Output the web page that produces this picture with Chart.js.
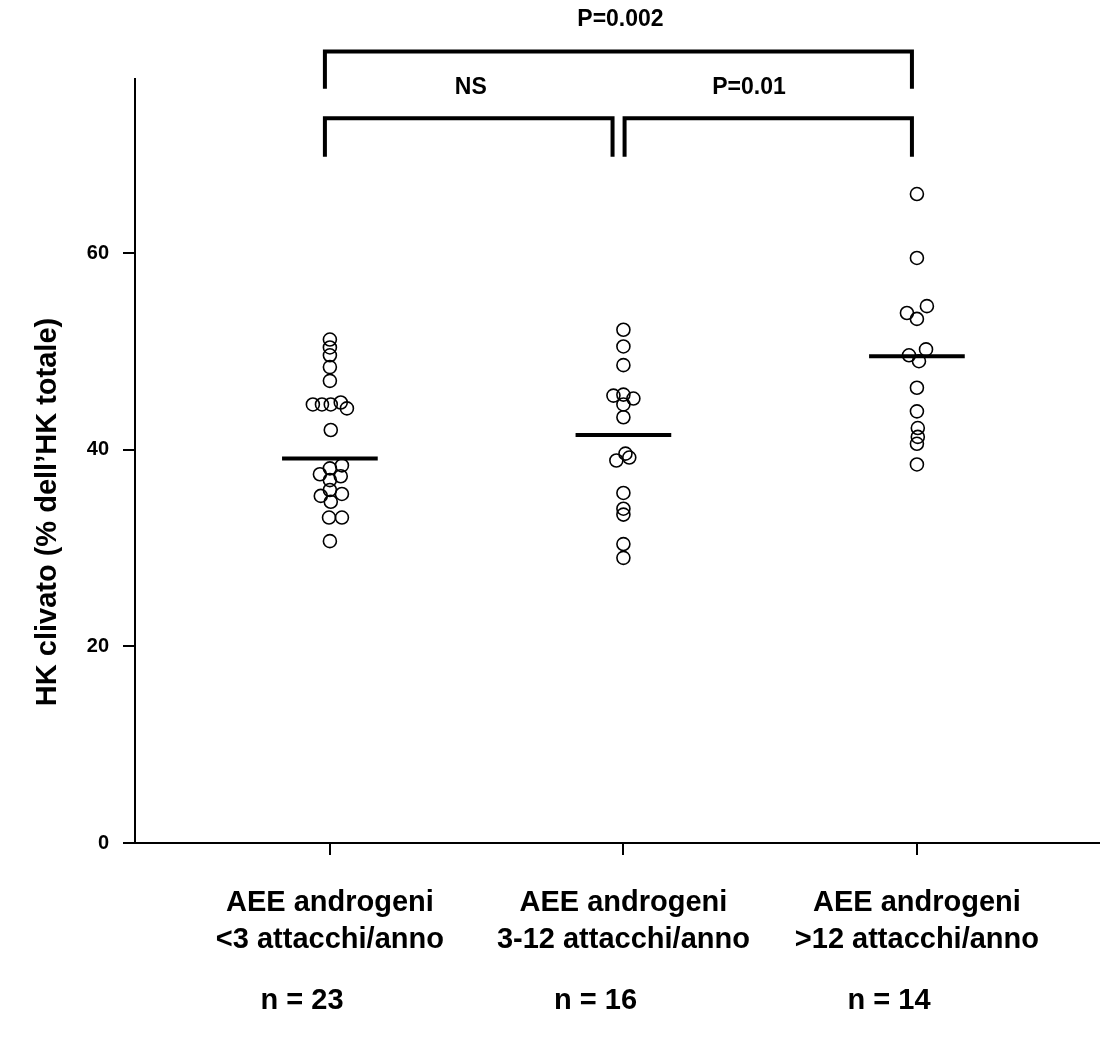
<!DOCTYPE html>
<html>
<head>
<meta charset="utf-8">
<script src="https://cdn.jsdelivr.net/npm/chart.js@4.4.1/dist/chart.umd.min.js"></script>
<style>
  html, body { margin: 0; padding: 0; background: #ffffff; }
  canvas { display: block; }
</style>
</head>
<body>
<canvas id="c" width="1107" height="1038"></canvas>
<script>
// ---------- data ----------
const categories = [
  ["AEE androgeni", "<3 attacchi/anno"],
  ["AEE androgeni", "3-12 attacchi/anno"],
  ["AEE androgeni", ">12 attacchi/anno"]
];
const nLabels = ["n = 23", "n = 16", "n = 14"];
const yTitle = "HK clivato (% dell\u2019HK totale)";
const yTicks = [0, 20, 40, 60];

const group1Values = [51.2, 50.4, 49.6, 48.4, 47.0, 44.6, 44.6, 44.6, 44.8, 44.2, 42.0, 38.4, 38.1, 37.5, 37.3, 36.9, 35.9, 35.3, 35.5, 34.7, 33.1, 33.1, 30.7];
const group1Jitter = [0, 0, 0, 0, 0, -0.058, -0.027, 0.003, 0.037, 0.058, 0.003, 0.041, 0, -0.034, 0.037, 0, 0, -0.031, 0.041, 0.003, -0.003, 0.041, 0];

const group2Values = [52.2, 50.5, 48.6, 45.5, 45.6, 45.2, 44.6, 43.3, 38.9, 39.6, 39.2, 35.6, 34.0, 33.4, 30.4, 29.0];
const group2Jitter = [0, 0, 0, -0.034, 0, 0.034, 0, 0, -0.024, 0.007, 0.02, 0, 0, 0, 0, 0];

const group3Values = [66.0, 59.5, 53.9, 53.3, 54.6, 49.6, 50.2, 49.0, 46.3, 43.9, 42.2, 41.3, 40.6, 38.5];
const group3Jitter = [0, 0, -0.034, 0, 0.034, -0.027, 0.031, 0.007, 0, 0, 0.003, 0.003, 0, 0];

const means = [39.1, 41.5, 49.5];

// significance brackets
const bracketFrom   = [0.983, 0.983, 2.004];
const bracketTo     = [2.983, 1.963, 2.983];
const bracketTop    = [80.5, 73.7, 73.7];
const bracketLeg    = [76.7, 69.8, 69.8];
const bracketLabels = ["P=0.002", "NS", "P=0.01"];
const bracketLabelX = [1.99, 1.48, 2.428];
const bracketLabelY = [83.7, 76.8, 76.8];

// ---------- build ----------
const groups = [
  { v: group1Values, j: group1Jitter },
  { v: group2Values, j: group2Jitter },
  { v: group3Values, j: group3Jitter }
];
const MEAN_HALF = 0.163;
const FONT = "'Liberation Sans', Arial, Helvetica, sans-serif";

const datasets = [];
groups.forEach((g, gi) => {
  datasets.push({
    type: 'scatter',
    data: g.v.map((y, i) => ({ x: gi + 1 + g.j[i], y: y })),
    pointStyle: 'circle',
    pointRadius: 6.5,
    pointHoverRadius: 6.5,
    borderColor: '#000',
    backgroundColor: 'rgba(0,0,0,0)',
    borderWidth: 1.6,
    pointBorderWidth: 1.6,
    showLine: false
  });
});
means.forEach((m, i) => {
  datasets.push({
    type: 'line',
    data: [{ x: i + 1 - MEAN_HALF, y: m }, { x: i + 1 + MEAN_HALF, y: m }],
    borderColor: '#000',
    borderWidth: 4,
    pointRadius: 0,
    fill: false,
    borderCapStyle: 'butt'
  });
});

const annotate = {
  id: 'annotate',
  afterDatasetsDraw(chart) {
    const ctx = chart.ctx;
    const xs = chart.scales.x, ys = chart.scales.y;
    ctx.save();
    ctx.strokeStyle = '#000';
    ctx.lineWidth = 4;
    ctx.lineCap = 'butt';
    ctx.lineJoin = 'miter';
    for (let i = 0; i < bracketFrom.length; i++) {
      const x1 = xs.getPixelForValue(bracketFrom[i]);
      const x2 = xs.getPixelForValue(bracketTo[i]);
      const yt = ys.getPixelForValue(bracketTop[i]);
      const yl = ys.getPixelForValue(bracketLeg[i]);
      ctx.beginPath();
      ctx.moveTo(x1, yl);
      ctx.lineTo(x1, yt);
      ctx.lineTo(x2, yt);
      ctx.lineTo(x2, yl);
      ctx.stroke();
    }
    ctx.fillStyle = '#000';
    ctx.textAlign = 'center';
    ctx.textBaseline = 'middle';
    ctx.font = "bold 23px " + FONT;
    for (let i = 0; i < bracketLabels.length; i++) {
      ctx.fillText(bracketLabels[i], xs.getPixelForValue(bracketLabelX[i]), ys.getPixelForValue(bracketLabelY[i]));
    }
    // n labels
    ctx.font = "bold 29px " + FONT;
    nLabels.forEach((t, i) => {
      ctx.fillText(t, xs.getPixelForValue(i + 1 - 0.095), 1001);
    });
    // y title
    ctx.save();
    ctx.translate(48, 512);
    ctx.rotate(-Math.PI / 2);
    ctx.font = "bold 29px " + FONT;
    ctx.fillText(yTitle, 0, 0);
    ctx.restore();
    ctx.restore();
  }
};

new Chart(document.getElementById('c'), {
  data: { datasets },
  options: {
    responsive: false,
    animation: false,
    layout: { padding: { top: 79, right: 0, left: 0, bottom: 0 } },
    plugins: { legend: { display: false }, tooltip: { enabled: false } },
    scales: {
      x: {
        type: 'linear',
        min: 0.336,
        max: 3.62,
        afterBuildTicks(scale) { scale.ticks = categories.map((c, i) => ({ value: i + 1 })); },
        afterFit(scale) { scale.height = 195; },
        border: { display: true, color: '#000', width: 2 },
        grid: { drawOnChartArea: false, drawTicks: true, tickLength: 12, color: '#000', lineWidth: 2 },
        ticks: {
          autoSkip: false,
          maxRotation: 0,
          color: '#000',
          padding: 29,
          font: { family: FONT, size: 29, weight: 'bold', lineHeight: 1.28 },
          callback: (v) => categories[Math.round(v) - 1]
        }
      },
      y: {
        type: 'linear',
        min: 0,
        max: 77.7,
        afterBuildTicks(scale) { scale.ticks = yTicks.map(v => ({ value: v })); },
        afterFit(scale) { scale.width = 135; },
        border: { display: true, color: '#000', width: 2 },
        grid: { drawOnChartArea: false, drawTicks: true, tickLength: 12, color: '#000', lineWidth: 2 },
        ticks: {
          color: '#000',
          padding: 14,
          font: { family: FONT, size: 20, weight: 'bold' }
        }
      }
    }
  },
  plugins: [annotate]
});
</script>
</body>
</html>
